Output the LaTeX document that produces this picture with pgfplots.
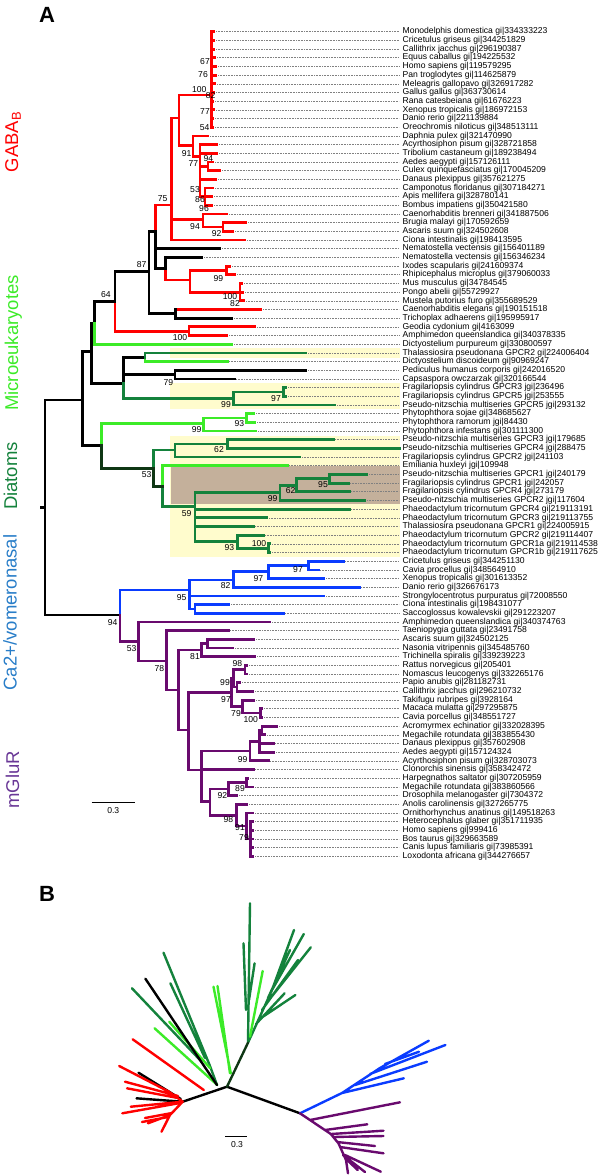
\documentclass[border=0pt]{standalone}
\usepackage{fontspec}
\setmainfont{Liberation Sans}
\usepackage{pgfplots}
\pgfplotsset{compat=1.18}
\definecolor{gred}{RGB}{255,0,0}
\definecolor{lgreen}{RGB}{60,235,40}
\definecolor{dgreen}{RGB}{20,130,60}
\definecolor{dkjoin}{RGB}{15,55,20}
\definecolor{bblue}{RGB}{10,60,255}
\definecolor{ppurple}{RGB}{105,10,110}
\definecolor{yel}{RGB}{255,252,205}
\definecolor{brn}{RGB}{196,176,155}
\definecolor{lblue}{RGB}{40,125,200}
\definecolor{lpurple}{RGB}{105,55,150}
\newcommand\lf{\fontsize{8.6bp}{9bp}\selectfont}
\newcommand\gf{\fontsize{18.5bp}{20bp}\selectfont}
\begin{document}
\begin{tikzpicture}
\tikzset{br/.style={line width=2.8bp, line cap=rect, line join=miter},
 bb/.style={line width=2.4bp, line cap=round},
 leaf/.style={anchor=west, inner sep=0pt, font=\lf},
 bs/.style={inner sep=0pt, font=\lf},
 grp/.style={rotate=90, anchor=base, inner sep=0pt, font=\gf}}
\begin{axis}[scale only axis, width=600bp, height=1176bp, xmin=0, xmax=600, ymin=0, ymax=1176,
 y dir=reverse, hide axis, clip=false, unbounded coords=jump]
% shaded boxes
\addplot[fill=yel, draw=none] coordinates {(170,348.3)(400,348.3)(400,358.3)(170,358.3)} -- cycle;
\addplot[fill=yel, draw=none] coordinates {(170,383.3)(400,383.3)(400,409.3)(170,409.3)} -- cycle;
\addplot[fill=yel, draw=none] coordinates {(170,435.7)(400,435.7)(400,556.7)(170,556.7)} -- cycle;
\addplot[fill=brn, draw=none] coordinates {(170.7,466)(400,466)(400,504)(170.7,504)} -- cycle;
% leaders
\addplot[gray, line width=0.5bp, dash pattern=on 0.7bp off 0.9bp] coordinates {
(216,31.7)(399,31.7) (nan,nan) (216,40.4)(399,40.4) (nan,nan) (216,49.1)(399,49.1) (nan,nan)
(217,57.7)(399,57.7) (nan,nan) (218,66.4)(399,66.4) (nan,nan) (218,75.1)(399,75.1) (nan,nan)
(217,83.8)(399,83.8) (nan,nan) (216,92.5)(399,92.5) (nan,nan) (215,101.1)(399,101.1) (nan,nan)
(216,109.8)(399,109.8) (nan,nan) (215,118.5)(399,118.5) (nan,nan) (215,127.2)(399,127.2) (nan,nan)
(210,135.9)(399,135.9) (nan,nan) (219,144.5)(399,144.5) (nan,nan) (219,153.2)(399,153.2) (nan,nan)
(215,161.9)(399,161.9) (nan,nan) (222,170.6)(399,170.6) (nan,nan) (218,179.3)(399,179.3) (nan,nan)
(215,187.9)(399,187.9) (nan,nan) (214,196.6)(399,196.6) (nan,nan) (214,205.3)(399,205.3) (nan,nan)
(229,214.0)(399,214.0) (nan,nan) (248,222.7)(399,222.7) (nan,nan) (235,231.3)(399,231.3) (nan,nan)
(247,240.0)(399,240.0) (nan,nan) (222,248.7)(399,248.7) (nan,nan) (204,257.4)(399,257.4) (nan,nan)
(232,266.1)(399,266.1) (nan,nan) (237,274.7)(399,274.7) (nan,nan) (244,283.4)(399,283.4) (nan,nan)
(245,292.1)(399,292.1) (nan,nan) (246,300.8)(399,300.8) (nan,nan) (263,309.5)(399,309.5) (nan,nan)
(234,318.1)(399,318.1) (nan,nan) (257,326.8)(399,326.8) (nan,nan) (229,335.5)(399,335.5) (nan,nan)
(234,344.2)(399,344.2) (nan,nan) (308,352.9)(399,352.9) (nan,nan) (229,361.5)(399,361.5) (nan,nan)
(308,370.2)(399,370.2) (nan,nan) (236,378.9)(399,378.9) (nan,nan) (288,387.6)(399,387.6) (nan,nan)
(288,396.3)(399,396.3) (nan,nan) (337,404.9)(399,404.9) (nan,nan) (256,413.6)(399,413.6) (nan,nan)
(257,422.3)(399,422.3) (nan,nan) (258,431.0)(399,431.0) (nan,nan) (335,439.7)(399,439.7) (nan,nan)
(302,457.0)(399,457.0) (nan,nan) (289,465.7)(399,465.7) (nan,nan)
(369,474.4)(399,474.4) (nan,nan) (350,483.1)(399,483.1) (nan,nan) (351,491.7)(399,491.7) (nan,nan)
(367,500.4)(399,500.4) (nan,nan) (351,509.1)(399,509.1) (nan,nan) (269,517.8)(399,517.8) (nan,nan)
(255,526.5)(399,526.5) (nan,nan) (265,535.1)(399,535.1) (nan,nan) (272,543.8)(399,543.8) (nan,nan)
(272,552.5)(399,552.5) (nan,nan) (345,561.2)(399,561.2) (nan,nan) (320,569.9)(399,569.9) (nan,nan)
(326,578.5)(399,578.5) (nan,nan) (361,587.2)(399,587.2) (nan,nan) (326,595.9)(399,595.9) (nan,nan)
(231,604.6)(399,604.6) (nan,nan) (285,613.3)(399,613.3) (nan,nan) (272,621.9)(399,621.9) (nan,nan)
(230,630.6)(399,630.6) (nan,nan) (256,639.3)(399,639.3) (nan,nan) (235,648.0)(399,648.0) (nan,nan)
(257,656.7)(399,656.7) (nan,nan) (249,665.3)(399,665.3) (nan,nan) (249,674.0)(399,674.0) (nan,nan)
(242,682.7)(399,682.7) (nan,nan) (255,691.4)(399,691.4) (nan,nan) (256,700.1)(399,700.1) (nan,nan)
(264,708.7)(399,708.7) (nan,nan) (264,717.4)(399,717.4) (nan,nan) (279,726.1)(399,726.1) (nan,nan)
(267,734.8)(399,734.8) (nan,nan) (275,743.5)(399,743.5) (nan,nan) (276,752.1)(399,752.1) (nan,nan)
(270,760.8)(399,760.8) (nan,nan) (255,769.5)(399,769.5) (nan,nan) (250,778.2)(399,778.2) (nan,nan)
(255,786.9)(399,786.9) (nan,nan) (239,795.5)(399,795.5) (nan,nan) (249,804.2)(399,804.2) (nan,nan)
(255,812.9)(399,812.9) (nan,nan) (255,821.6)(399,821.6) (nan,nan) (255,830.3)(399,830.3) (nan,nan)
(255,838.9)(399,838.9) (nan,nan) (255,847.6)(399,847.6) (nan,nan) (255,856.3)(399,856.3)};
% red branches
\addplot[br, gred] coordinates {
(211.5,31.7)(211.5,127.2) (nan,nan)
(211.5,31.7)(214,31.7) (nan,nan) (211.5,40.4)(214,40.4) (nan,nan) (211.5,49.1)(214,49.1) (nan,nan)
(211.5,57.7)(215,57.7) (nan,nan) (211.5,66.4)(216,66.4) (nan,nan) (211.5,75.1)(216,75.1) (nan,nan)
(211.5,83.8)(215,83.8) (nan,nan) (211.5,92.5)(214,92.5) (nan,nan) (211.5,101.1)(213,101.1) (nan,nan)
(211.5,109.8)(214,109.8) (nan,nan) (211.5,118.5)(213,118.5) (nan,nan) (211.5,127.2)(213,127.2) (nan,nan)
(179,95)(211.5,95) (nan,nan) (179,95)(179,145.7) (nan,nan) (179,145.7)(193,145.7) (nan,nan)
(193,135.9)(193,156.7) (nan,nan) (193,135.9)(208,135.9) (nan,nan) (193,156.7)(200,156.7) (nan,nan)
(200,144.5)(200,196.6) (nan,nan) (200,144.5)(217,144.5) (nan,nan) (200,153.2)(217,153.2) (nan,nan)
(200,166.2)(208,166.2) (nan,nan) (208,161.9)(208,170.6) (nan,nan) (208,161.9)(213,161.9) (nan,nan)
(208,170.6)(220,170.6) (nan,nan) (200,179.3)(216,179.3) (nan,nan) (200,196.6)(205,196.6) (nan,nan)
(205,187.9)(205,205.3) (nan,nan) (205,187.9)(213,187.9) (nan,nan) (205,196.6)(212,196.6) (nan,nan)
(205,205.3)(212,205.3) (nan,nan)
(171.7,118)(179,118) (nan,nan) (171.7,118)(171.7,240) (nan,nan) (171.7,219.6)(203,219.6) (nan,nan)
(203,214)(203,227) (nan,nan) (203,214)(227,214) (nan,nan) (203,227)(223,227) (nan,nan)
(223,222.7)(223,231.3) (nan,nan) (223,222.7)(246,222.7) (nan,nan) (223,231.3)(233,231.3) (nan,nan)
(171.7,240)(245,240) (nan,nan) (155.5,205)(171.7,205) (nan,nan) (155.5,205)(155.5,231.7) (nan,nan)
(165.7,268.3)(165.7,280) (nan,nan) (165.7,280)(190,280) (nan,nan) (190,270.4)(190,292.1) (nan,nan)
(190,270.4)(226.7,270.4) (nan,nan) (226.7,266.1)(226.7,274.7) (nan,nan) (226.7,266.1)(230,266.1) (nan,nan)
(226.7,274.7)(235,274.7) (nan,nan) (190,292.1)(240,292.1) (nan,nan) (240,283.4)(240,300.8) (nan,nan)
(240,283.4)(242,283.4) (nan,nan) (240,292.1)(243,292.1) (nan,nan) (240,300.8)(244,300.8) (nan,nan)
(175.7,309.5)(260.7,309.5) (nan,nan) (115,301.7)(115,331.2) (nan,nan) (115,331.2)(189,331.2) (nan,nan)
(189,326.8)(189,335.5) (nan,nan) (189,326.8)(255,326.8) (nan,nan) (189,335.5)(227,335.5)};
% black branches
\addplot[br, black] coordinates {
(149,231.7)(155.5,231.7) (nan,nan) (155.5,231.7)(155.5,268.3) (nan,nan) (155.5,248.7)(220,248.7) (nan,nan)
(155.5,268.3)(165.7,268.3) (nan,nan) (165.7,257.4)(165.7,268.3) (nan,nan) (165.7,257.4)(201.7,257.4) (nan,nan)
(149,231.7)(149,313.8) (nan,nan) (149,313.8)(175.7,313.8) (nan,nan) (175.7,309.5)(175.7,318.1) (nan,nan)
(175.7,318.1)(231.7,318.1) (nan,nan) (115,271.7)(149,271.7) (nan,nan) (115,271.7)(115,301.7) (nan,nan)
(94.3,301.7)(115,301.7) (nan,nan) (94.3,301.7)(94.3,323) (nan,nan) (91.7,323)(94.3,323) (nan,nan)
(91.7,323)(91.7,383.3) (nan,nan) (82.7,351.7)(91.7,351.7) (nan,nan) (91.7,383.3)(123.3,383.3) (nan,nan)
(123.3,357.2)(123.3,383.3) (nan,nan) (123.3,357.2)(145,357.2) (nan,nan) (123.3,374.6)(175,374.6) (nan,nan)
(175,370.2)(175,378.9) (nan,nan) (175,370.2)(306,370.2) (nan,nan) (175,378.9)(234.3,378.9) (nan,nan)
(82.7,351.7)(82.7,445.5) (nan,nan) (45,400)(82.7,400) (nan,nan) (82.7,445.5)(101.7,445.5) (nan,nan)
(45,400)(45,615) (nan,nan) (41,507.5)(45,507.5) (nan,nan) (45,615)(120,615)};
% light green
\addplot[br, lgreen] coordinates {
(94.3,323)(94.3,344.2) (nan,nan) (94.3,344.2)(231.7,344.2) (nan,nan) (145,357.2)(145,361.5) (nan,nan)
(145,361.5)(227.3,361.5) (nan,nan) (101.7,423.3)(101.7,445.5) (nan,nan) (101.7,423.3)(203.3,423.3) (nan,nan)
(203.3,418)(203.3,431) (nan,nan) (203.3,418)(246.7,418) (nan,nan) (246.7,413.6)(246.7,422.3) (nan,nan)
(246.7,413.6)(254,413.6) (nan,nan) (246.7,422.3)(255,422.3) (nan,nan) (203.3,431)(255.7,431) (nan,nan)
(162.7,465.7)(162.7,486.7) (nan,nan) (162.7,465.7)(287.3,465.7)};
% dark green
\addplot[br, dgreen] coordinates {
(145,352.9)(145,357.2) (nan,nan) (145,352.9)(306,352.9) (nan,nan) (123.3,383.3)(123.3,398.3) (nan,nan)
(123.3,398.3)(233.3,398.3) (nan,nan) (233.3,392)(233.3,404.9) (nan,nan) (233.3,392)(283.3,392) (nan,nan)
(283.3,387.6)(283.3,396.3) (nan,nan) (283.3,387.6)(285.5,387.6) (nan,nan) (283.3,396.3)(285.5,396.3) (nan,nan)
(233.3,404.9)(335,404.9) (nan,nan) (153.3,450)(153.3,468.3) (nan,nan) (153.3,450)(175,450) (nan,nan)
(175,444)(175,457) (nan,nan) (175,444)(227.3,444) (nan,nan) (227.3,439.7)(227.3,448.3) (nan,nan)
(227.3,439.7)(333.3,439.7) (nan,nan) (227.3,448.3)(400,448.3) (nan,nan) (175,457)(300,457) (nan,nan)
(162.7,486.7)(162.7,506.7) (nan,nan) (162.7,506.7)(195,506.7) (nan,nan) (195,492.8)(195,541.7) (nan,nan)
(195,492.8)(280,492.8) (nan,nan) (280,485.2)(280,500.4) (nan,nan) (280,485.2)(296.7,485.2) (nan,nan)
(296.7,478.75)(296.7,491.7) (nan,nan) (296.7,478.75)(329.3,478.75) (nan,nan) (329.3,474.4)(329.3,483.1) (nan,nan)
(329.3,474.4)(366.7,474.4) (nan,nan) (329.3,483.1)(348.3,483.1) (nan,nan) (296.7,491.7)(349.3,491.7) (nan,nan)
(280,500.4)(365,500.4) (nan,nan) (195,509.1)(349.3,509.1) (nan,nan) (195,517.8)(266.7,517.8) (nan,nan)
(195,526.5)(253.3,526.5) (nan,nan) (195,541.7)(237.3,541.7) (nan,nan) (237.3,535.1)(237.3,548.2) (nan,nan)
(237.3,535.1)(263.3,535.1) (nan,nan) (237.3,548.2)(268.3,548.2) (nan,nan) (268.3,543.8)(268.3,552.5) (nan,nan)
(268.3,543.8)(270,543.8) (nan,nan) (268.3,552.5)(270,552.5)};
\addplot[br, dkjoin] coordinates {
(101.7,445.5)(101.7,468.3) (nan,nan) (101.7,468.3)(153.3,468.3) (nan,nan)
(153.3,468.3)(153.3,486.7) (nan,nan) (153.3,486.7)(162.7,486.7)};
% blue
\addplot[br, bblue] coordinates {
(120,590)(120,615) (nan,nan) (120,590)(189.3,590) (nan,nan) (189.3,580)(189.3,608.9) (nan,nan)
(189.3,580)(233.3,580) (nan,nan) (233.3,571.7)(233.3,587.2) (nan,nan) (233.3,571.7)(268.3,571.7) (nan,nan)
(268.3,565.5)(268.3,578.5) (nan,nan) (268.3,565.5)(308.3,565.5) (nan,nan) (308.3,561.2)(308.3,569.9) (nan,nan)
(308.3,561.2)(343.3,561.2) (nan,nan) (308.3,569.9)(318.3,569.9) (nan,nan) (268.3,578.5)(324,578.5) (nan,nan)
(233.3,587.2)(359.3,587.2) (nan,nan) (189.3,595.9)(324,595.9) (nan,nan) (189.3,608.9)(195,608.9) (nan,nan)
(195,604.6)(195,613.3) (nan,nan) (195,604.6)(229,604.6) (nan,nan) (195,613.3)(283.3,613.3)};
% purple
\addplot[br, ppurple] coordinates {
(120,615)(120,641.7) (nan,nan) (120,641.7)(138.3,641.7) (nan,nan) (138.3,621.9)(138.3,661) (nan,nan)
(138.3,621.9)(270,621.9) (nan,nan) (138.3,661)(166.7,661) (nan,nan) (166.7,630.6)(166.7,690) (nan,nan)
(166.7,630.6)(228.3,630.6) (nan,nan) (166.7,690)(178.3,690) (nan,nan) (178.3,650)(178.3,730) (nan,nan)
(178.3,650)(201.7,650) (nan,nan) (201.7,643.6)(201.7,656.7) (nan,nan) (201.7,643.6)(207.3,643.6) (nan,nan)
(207.3,639.3)(207.3,648) (nan,nan) (207.3,639.3)(254,639.3) (nan,nan) (207.3,648)(232.7,648) (nan,nan)
(201.7,656.7)(255,656.7) (nan,nan) (178.3,730)(188.3,730) (nan,nan) (188.3,692.5)(188.3,770) (nan,nan)
(188.3,692.5)(231.7,692.5) (nan,nan) (231.7,678.3)(231.7,706.6) (nan,nan) (231.7,678.3)(233.5,678.3) (nan,nan)
(233.5,669.7)(233.5,687) (nan,nan) (233.5,669.7)(245,669.7) (nan,nan) (245,665.3)(245,674) (nan,nan)
(245,665.3)(246.5,665.3) (nan,nan) (245,674)(247,674) (nan,nan) (233.5,687)(237,687) (nan,nan)
(237,682.7)(237,691.4) (nan,nan) (237,682.7)(239.5,682.7) (nan,nan) (237,691.4)(253,691.4) (nan,nan)
(231.7,706.6)(242.7,706.6) (nan,nan) (242.7,700.1)(242.7,713) (nan,nan) (242.7,700.1)(254,700.1) (nan,nan)
(242.7,713)(260.7,713) (nan,nan) (260.7,708.7)(260.7,717.4) (nan,nan) (260.7,708.7)(262,708.7) (nan,nan)
(260.7,717.4)(262,717.4) (nan,nan) (188.3,770)(201.7,770) (nan,nan) (201.7,751)(201.7,801.7) (nan,nan)
(201.7,769.5)(253.3,769.5) (nan,nan) (201.7,751)(250,751) (nan,nan) (250,741.3)(250,760.8) (nan,nan)
(250,741.3)(259.3,741.3) (nan,nan) (259.3,730.5)(259.3,752.1) (nan,nan) (259.3,730.5)(262,730.5) (nan,nan)
(262,726.1)(262,734.8) (nan,nan) (262,726.1)(276.7,726.1) (nan,nan) (262,734.8)(265,734.8) (nan,nan)
(259.3,743.5)(273.3,743.5) (nan,nan) (259.3,752.1)(274,752.1) (nan,nan) (250,760.8)(268.3,760.8) (nan,nan)
(201.7,801.7)(210,801.7) (nan,nan) (210,789)(210,815.1) (nan,nan) (210,789)(228.3,789) (nan,nan)
(228.3,782.5)(228.3,795.5) (nan,nan) (228.3,782.5)(246.7,782.5) (nan,nan) (246.7,778.2)(246.7,786.9) (nan,nan)
(246.7,778.2)(248,778.2) (nan,nan) (246.7,786.9)(253,786.9) (nan,nan) (228.3,795.5)(236.7,795.5) (nan,nan)
(210,815.1)(236.7,815.1) (nan,nan) (236.7,804.2)(236.7,826) (nan,nan) (236.7,804.2)(246.7,804.2) (nan,nan)
(236.7,826)(246.7,826) (nan,nan) (246.7,812.9)(246.7,839) (nan,nan) (246.7,812.9)(252.7,812.9) (nan,nan)
(246.7,839)(250.7,839) (nan,nan) (250.7,821.6)(250.7,856.3) (nan,nan) (250.7,821.6)(253,821.6) (nan,nan)
(250.7,830.3)(253,830.3) (nan,nan) (250.7,838.9)(253,838.9) (nan,nan) (250.7,847.6)(253,847.6) (nan,nan)
(250.7,856.3)(253,856.3)};
% scale bar A
\addplot[black, line width=1.1bp] coordinates {(91.7,802.3)(135,802.3)};
\node[bs] at (axis cs:113.3,811) {0.3};
% panel letters
\node[inner sep=0pt, font=\fontsize{22bp}{24bp}\selectfont\bfseries] at (axis cs:47,15) {A};
\node[inner sep=0pt, font=\fontsize{22bp}{24bp}\selectfont\bfseries] at (axis cs:47,894) {B};
% group labels
\node[grp, text=gred] at (axis cs:18,142) {GABA\textsubscript{B}};
\node[grp, text=lgreen] at (axis cs:18,343) {Microeukaryotes};
\node[grp, text=dgreen] at (axis cs:17,476) {Diatoms};
\node[grp, text=lblue] at (axis cs:16.5,612.5) {Ca2+/vomeronasal};
\node[grp, text=lpurple] at (axis cs:19,780) {mGluR};
% bootstrap values
\node[bs] at (axis cs:205,62) {67};
\node[bs] at (axis cs:203,75) {76};
\node[bs] at (axis cs:199.3,90) {100};
\node[bs] at (axis cs:210.7,96) {82};
\node[bs] at (axis cs:205,112) {77};
\node[bs] at (axis cs:204.7,128) {54};
\node[bs] at (axis cs:186.7,153.3) {91};
\node[bs] at (axis cs:193.3,163.3) {77};
\node[bs] at (axis cs:208.3,158.3) {94};
\node[bs] at (axis cs:195,190) {53};
\node[bs] at (axis cs:200,200) {86};
\node[bs] at (axis cs:204,208.3) {96};
\node[bs] at (axis cs:162.7,198.7) {75};
\node[bs] at (axis cs:195,226.7) {94};
\node[bs] at (axis cs:216.7,233.3) {92};
\node[bs] at (axis cs:141.7,265) {87};
\node[bs] at (axis cs:218.3,278.3) {99};
\node[bs] at (axis cs:230,296.7) {100};
\node[bs] at (axis cs:235,304) {82};
\node[bs] at (axis cs:106,295) {64};
\node[bs] at (axis cs:180,337.3) {100};
\node[bs] at (axis cs:168.3,382.3) {79};
\node[bs] at (axis cs:276,398.3) {97};
\node[bs] at (axis cs:226,405) {99};
\node[bs] at (axis cs:239.3,423.3) {93};
\node[bs] at (axis cs:196.7,430) {99};
\node[bs] at (axis cs:219,449.3) {62};
\node[bs] at (axis cs:146.7,475) {53};
\node[bs] at (axis cs:323,485) {95};
\node[bs] at (axis cs:290.7,491) {62};
\node[bs] at (axis cs:272.7,498.3) {99};
\node[bs] at (axis cs:186.7,513.3) {59};
\node[bs] at (axis cs:259,543.3) {100};
\node[bs] at (axis cs:229.3,547.3) {93};
\node[bs] at (axis cs:298,570) {97};
\node[bs] at (axis cs:258.3,578.3) {97};
\node[bs] at (axis cs:225.7,585.7) {82};
\node[bs] at (axis cs:181.7,597.3) {95};
\node[bs] at (axis cs:112.7,622.7) {94};
\node[bs] at (axis cs:131.7,648.3) {53};
\node[bs] at (axis cs:159.3,668.3) {78};
\node[bs] at (axis cs:195,656.7) {81};
\node[bs] at (axis cs:237.3,664) {98};
\node[bs] at (axis cs:225,682.7) {99};
\node[bs] at (axis cs:226,699.3) {97};
\node[bs] at (axis cs:236,713.3) {79};
\node[bs] at (axis cs:250.7,720) {100};
\node[bs] at (axis cs:242.7,760) {99};
\node[bs] at (axis cs:240,788.3) {89};
\node[bs] at (axis cs:222.3,795.7) {92};
\node[bs] at (axis cs:228.3,820) {98};
\node[bs] at (axis cs:240,827.3) {91};
\node[bs] at (axis cs:244,837.7) {79};
% leaf labels
\node[leaf] at (axis cs:402.5,31.7) {Monodelphis domestica gi|334333223};
\node[leaf] at (axis cs:402.5,40.4) {Cricetulus griseus gi|344251829};
\node[leaf] at (axis cs:402.5,49.1) {Callithrix jacchus gi|296190387};
\node[leaf] at (axis cs:402.5,57.7) {Equus caballus gi|194225532};
\node[leaf] at (axis cs:402.5,66.4) {Homo sapiens gi|119579295};
\node[leaf] at (axis cs:402.5,75.1) {Pan troglodytes gi|114625879};
\node[leaf] at (axis cs:402.5,83.8) {Meleagris gallopavo gi|326917282};
\node[leaf] at (axis cs:402.5,92.5) {Gallus gallus gi|363730614};
\node[leaf] at (axis cs:402.5,101.1) {Rana catesbeiana gi|61676223};
\node[leaf] at (axis cs:402.5,109.8) {Xenopus tropicalis gi|186972153};
\node[leaf] at (axis cs:402.5,118.5) {Danio rerio gi|221139884};
\node[leaf] at (axis cs:402.5,127.2) {Oreochromis niloticus gi|348513111};
\node[leaf] at (axis cs:402.5,135.9) {Daphnia pulex gi|321470990};
\node[leaf] at (axis cs:402.5,144.5) {Acyrthosiphon pisum gi|328721858};
\node[leaf] at (axis cs:402.5,153.2) {Tribolium castaneum gi|189238494};
\node[leaf] at (axis cs:402.5,161.9) {Aedes aegypti gi|157126111};
\node[leaf] at (axis cs:402.5,170.6) {Culex quinquefasciatus gi|170045209};
\node[leaf] at (axis cs:402.5,179.3) {Danaus plexippus gi|357621275};
\node[leaf] at (axis cs:402.5,187.9) {Camponotus floridanus gi|307184271};
\node[leaf] at (axis cs:402.5,196.6) {Apis mellifera gi|328780141};
\node[leaf] at (axis cs:402.5,205.3) {Bombus impatiens gi|350421580};
\node[leaf] at (axis cs:402.5,214.0) {Caenorhabditis brenneri gi|341887506};
\node[leaf] at (axis cs:402.5,222.7) {Brugia malayi gi|170592659};
\node[leaf] at (axis cs:402.5,231.3) {Ascaris suum gi|324502608};
\node[leaf] at (axis cs:402.5,240.0) {Ciona intestinalis gi|198413595};
\node[leaf] at (axis cs:402.5,248.7) {Nematostella vectensis gi|156401189};
\node[leaf] at (axis cs:402.5,257.4) {Nematostella vectensis gi|156346234};
\node[leaf] at (axis cs:402.5,266.1) {Ixodes scapularis gi|241609374};
\node[leaf] at (axis cs:402.5,274.7) {Rhipicephalus microplus gi|379060033};
\node[leaf] at (axis cs:402.5,283.4) {Mus musculus gi|34784545};
\node[leaf] at (axis cs:402.5,292.1) {Pongo abelii gi|55729927};
\node[leaf] at (axis cs:402.5,300.8) {Mustela putorius furo gi|355689529};
\node[leaf] at (axis cs:402.5,309.5) {Caenorhabditis elegans gi|190151518};
\node[leaf] at (axis cs:402.5,318.1) {Trichoplax adhaerens gi|195995917};
\node[leaf] at (axis cs:402.5,326.8) {Geodia cydonium gi|4163099};
\node[leaf] at (axis cs:402.5,335.5) {Amphimedon queenslandica gi|340378335};
\node[leaf] at (axis cs:402.5,344.2) {Dictyostelium purpureum gi|330800597};
\node[leaf] at (axis cs:402.5,352.9) {Thalassiosira pseudonana GPCR2 gi|224006404};
\node[leaf] at (axis cs:402.5,361.5) {Dictyostelium discoideum gi|90969247};
\node[leaf] at (axis cs:402.5,370.2) {Pediculus humanus corporis gi|242016520};
\node[leaf] at (axis cs:402.5,378.9) {Capsaspora owczarzak gi|320166544};
\node[leaf] at (axis cs:402.5,387.6) {Fragilariopsis cylindrus GPCR3 jgi|236496};
\node[leaf] at (axis cs:402.5,396.3) {Fragilariopsis cylindrus GPCR5 jgi|253555};
\node[leaf] at (axis cs:402.5,404.9) {Pseudo-nitzschia multiseries GPCR5 jgi|293132};
\node[leaf] at (axis cs:402.5,413.6) {Phytophthora sojae gi|348685627};
\node[leaf] at (axis cs:402.5,422.3) {Phytophthora ramorum jgi|84430};
\node[leaf] at (axis cs:402.5,431.0) {Phytophthora infestans gi|301111300};
\node[leaf] at (axis cs:402.5,439.7) {Pseudo-nitzschia multiseries GPCR3 jgi|179685};
\node[leaf] at (axis cs:402.5,448.3) {Pseudo-nitzschia multiseries GPCR4 jgi|288475};
\node[leaf] at (axis cs:402.5,457.0) {Fragilariopsis cylindrus GPCR2 jgi|241103};
\node[leaf] at (axis cs:402.5,465.7) {Emiliania huxleyi jgi|109948};
\node[leaf] at (axis cs:402.5,474.4) {Pseudo-nitzschia multiseries GPCR1 jgi|240179};
\node[leaf] at (axis cs:402.5,483.1) {Fragilariopsis cylindrus GPCR1 jgi|242057};
\node[leaf] at (axis cs:402.5,491.7) {Fragilariopsis cylindrus GPCR4 jgi|273179};
\node[leaf] at (axis cs:402.5,500.4) {Pseudo-nitzschia multiseries GPCR2 jgi|117604};
\node[leaf] at (axis cs:402.5,509.1) {Phaeodactylum tricornutum GPCR4 gi|219113191};
\node[leaf] at (axis cs:402.5,517.8) {Phaeodactylum tricornutum GPCR3 gi|219113755};
\node[leaf] at (axis cs:402.5,526.5) {Thalassiosira pseudonana GPCR1 gi|224005915};
\node[leaf] at (axis cs:402.5,535.1) {Phaeodactylum tricornutum GPCR2 gi|219114407};
\node[leaf] at (axis cs:402.5,543.8) {Phaeodactylum tricornutum GPCR1a gi|219114538};
\node[leaf] at (axis cs:402.5,552.5) {Phaeodactylum tricornutum GPCR1b gi|219117625};
\node[leaf] at (axis cs:402.5,561.2) {Cricetulus griseus gi|344251130};
\node[leaf] at (axis cs:402.5,569.9) {Cavia procellus gi|348564910};
\node[leaf] at (axis cs:402.5,578.5) {Xenopus tropicalis gi|301613352};
\node[leaf] at (axis cs:402.5,587.2) {Danio rerio gi|326676173};
\node[leaf] at (axis cs:402.5,595.9) {Strongylocentrotus purpuratus gi|72008550};
\node[leaf] at (axis cs:402.5,604.6) {Ciona intestinalis gi|198431077};
\node[leaf] at (axis cs:402.5,613.3) {Saccoglossus kowalevskii gi|291223207};
\node[leaf] at (axis cs:402.5,621.9) {Amphimedon queenslandica gi|340374763};
\node[leaf] at (axis cs:402.5,630.6) {Taeniopygia guttata gi|23491758};
\node[leaf] at (axis cs:402.5,639.3) {Ascaris suum gi|324502125};
\node[leaf] at (axis cs:402.5,648.0) {Nasonia vitripennis gi|345485760};
\node[leaf] at (axis cs:402.5,656.7) {Trichinella spiralis gi|339239223};
\node[leaf] at (axis cs:402.5,665.3) {Rattus norvegicus gi|205401};
\node[leaf] at (axis cs:402.5,674.0) {Nomascus leucogenys gi|332265176};
\node[leaf] at (axis cs:402.5,682.7) {Papio anubis gi|281182731};
\node[leaf] at (axis cs:402.5,691.4) {Callithrix jacchus gi|296210732};
\node[leaf] at (axis cs:402.5,700.1) {Takifugu rubripes gi|3928164};
\node[leaf] at (axis cs:402.5,708.7) {Macaca mulatta gi|297295875};
\node[leaf] at (axis cs:402.5,717.4) {Cavia porcellus gi|348551727};
\node[leaf] at (axis cs:402.5,726.1) {Acromyrmex echinatior gi|332028395};
\node[leaf] at (axis cs:402.5,734.8) {Megachile rotundata gi|383855430};
\node[leaf] at (axis cs:402.5,743.5) {Danaus plexippus gi|357602908};
\node[leaf] at (axis cs:402.5,752.1) {Aedes aegypti gi|157124324};
\node[leaf] at (axis cs:402.5,760.8) {Acyrthosiphon pisum gi|328703073};
\node[leaf] at (axis cs:402.5,769.5) {Clonorchis sinensis gi|358342472};
\node[leaf] at (axis cs:402.5,778.2) {Harpegnathos saltator gi|307205959};
\node[leaf] at (axis cs:402.5,786.9) {Megachile rotundata gi|383860566};
\node[leaf] at (axis cs:402.5,795.5) {Drosophila melanogaster gi|7304372};
\node[leaf] at (axis cs:402.5,804.2) {Anolis carolinensis gi|327265775};
\node[leaf] at (axis cs:402.5,812.9) {Ornithorhynchus anatinus gi|149518263};
\node[leaf] at (axis cs:402.5,821.6) {Heterocephalus glaber gi|351711935};
\node[leaf] at (axis cs:402.5,830.3) {Homo sapiens gi|999416};
\node[leaf] at (axis cs:402.5,838.9) {Bos taurus gi|329663589};
\node[leaf] at (axis cs:402.5,847.6) {Canis lupus familiaris gi|73985391};
\node[leaf] at (axis cs:402.5,856.3) {Loxodonta africana gi|344276657};
% ---------- panel B ----------
\addplot[bb, dgreen] coordinates {
(248,1042.7)(250,903.3) (nan,nan) (246,1010)(243.5,943.3) (nan,nan) (249,1000)(254.6,963.3) (nan,nan)
(248,1042.7)(253.8,1030) (nan,nan) (253.8,1030)(272,990) (nan,nan) (272,990)(294,930) (nan,nan)
(272,990)(303.8,934) (nan,nan) (265,1005)(310.8,947.3) (nan,nan) (258,1020)(295.4,995) (nan,nan)
(256,1024)(284.6,993.3) (nan,nan) (262,1010)(298,960) (nan,nan) (268,998)(290,950) (nan,nan)
(217,1085)(209.6,1065) (nan,nan) (209.6,1065)(163.5,952.7) (nan,nan) (205,1058)(170.4,983.3) (nan,nan)
(200,1060)(132,988.3)};
\addplot[bb, lgreen] coordinates {
(250,1036.7)(262.7,971) (nan,nan) (217.3,1085)(154.6,1028.3) (nan,nan) (210,1068)(169.2,1021.7) (nan,nan)
(230.8,1073.3)(213.5,986.7) (nan,nan) (230,1073.3)(217.5,986)};
\addplot[bb, black] coordinates {
(217,1085)(200,1060) (nan,nan) (200,1060)(145.4,978.7) (nan,nan)
(182.7,1101.7)(227,1086.7) (nan,nan) (227,1086.7)(300,1113.3) (nan,nan)
(180.8,1099)(138.5,1072.7) (nan,nan) (182.7,1101.7)(136.5,1098.3)};
\addplot[bb, dkjoin] coordinates {(227,1086.7)(248,1042.7)};
\addplot[bb, gred] coordinates {
(203.8,1090)(132.7,1039.3) (nan,nan) (182.7,1101.7)(169,1091.7) (nan,nan) (169,1091.7)(119.2,1066) (nan,nan)
(178,1096)(125,1081.7) (nan,nan) (178,1098)(127,1088.3) (nan,nan) (182.7,1101.7)(130.8,1106.7) (nan,nan)
(180,1103)(122.3,1113.3) (nan,nan) (182.7,1101.7)(170,1115) (nan,nan) (170,1115)(148,1123.3) (nan,nan)
(170,1115)(161.5,1131.7) (nan,nan) (168,1117)(142,1122) (nan,nan) (172,1113)(145,1118)};
\addplot[bb, bblue] coordinates {
(300,1113.3)(342,1093) (nan,nan) (342,1093)(380,1068) (nan,nan) (380,1068)(428.8,1040.7) (nan,nan)
(370,1074)(445.4,1045) (nan,nan) (385,1064)(419,1051.7) (nan,nan) (355,1085)(427,1061.7) (nan,nan)
(342,1093)(403.8,1078.3)};
\addplot[bb, ppurple] coordinates {
(300,1113.3)(330.8,1134) (nan,nan) (330.8,1134)(338.5,1143.3) (nan,nan) (338.5,1143.3)(346,1160) (nan,nan)
(346,1160)(348,1173.3) (nan,nan) (310,1120)(400,1102.3) (nan,nan) (325,1130)(367.3,1124.3) (nan,nan)
(331,1134)(383.5,1130.7) (nan,nan) (333,1137)(383.5,1136) (nan,nan) (337,1142)(375,1146) (nan,nan)
(340,1147)(383.5,1153.3) (nan,nan) (345,1155)(380.8,1171.7) (nan,nan) (345,1158)(357.7,1170) (nan,nan)
(343,1155)(365,1172)};
\addplot[black, line width=1.1bp] coordinates {(225,1136.7)(247,1136.7)};
\node[bs] at (axis cs:237,1145) {0.3};
\end{axis}
\pgfresetboundingbox
\path (current axis.south west) rectangle (current axis.north east);
\end{tikzpicture}
\end{document}
